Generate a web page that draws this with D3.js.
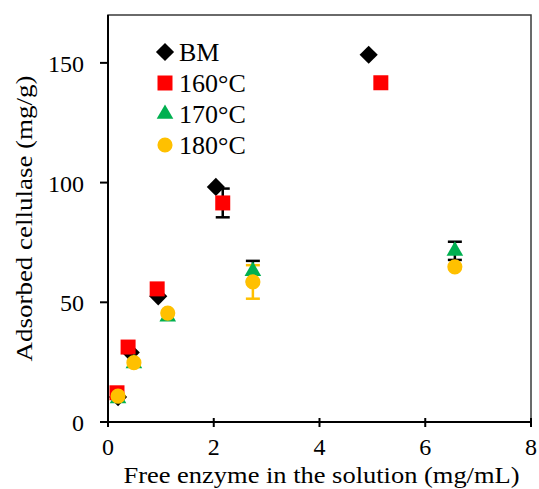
<!DOCTYPE html>
<html>
<head>
<meta charset="utf-8">
<script src="https://cdn.jsdelivr.net/npm/d3@7"></script>
<style>
  html, body { margin: 0; padding: 0; background: #fff; }
  text { font-family: "Liberation Serif", "Times New Roman", serif; fill: #000; }
</style>
</head>
<body>
<script>
// Series values
const seriesNames = ["BM", "160°C", "170°C", "180°C"];

const bmX = [0.19, 0.43, 0.95, 2.04, 4.93];
const bmY = [10.4, 29.0, 52.5, 98.2, 153.4];
const bmErr = [0.5, 0.5, 1.0, 0.5, 1.0];

const t160X = [0.17, 0.38, 0.93, 2.17, 5.16];
const t160Y = [12.2, 31.3, 55.6, 91.5, 141.7];
const t160Err = [0.5, 0.5, 0.5, 6.0, 0.5];

const t170X = [0.19, 0.49, 1.13, 2.74, 6.56];
const t170Y = [9.8, 24.5, 44.0, 63.0, 71.5];
const t170Err = [0.5, 0.5, 0.5, 4.3, 3.8];

const t180X = [0.19, 0.49, 1.13, 2.74, 6.56];
const t180Y = [10.8, 24.8, 45.5, 58.5, 64.8];
const t180Err = [0.5, 0.5, 0.5, 7.0, 0.5];

const xTicks = [0, 2, 4, 6, 8];
const yTicks = [0, 50, 100, 150];

const width = 539;
const height = 489;
const margin = { top: 15, right: 8, bottom: 67, left: 108 };

const x = d3.scaleLinear().domain([0, 8]).range([margin.left, width - margin.right]);
const y = d3.scaleLinear().domain([0, 170]).range([height - margin.bottom, margin.top]);

// styles per series
const styles = [
  { fill: "#000000", err: "#000000", shape: "diamond" },
  { fill: "#FF0000", err: "#000000", shape: "square" },
  { fill: "#00B050", err: "#000000", shape: "triangle" },
  { fill: "#FFC000", err: "#FFC000", shape: "circle" }
];

const series = [
  { xs: bmX, ys: bmY, err: bmErr },
  { xs: t160X, ys: t160Y, err: t160Err },
  { xs: t170X, ys: t170Y, err: t170Err },
  { xs: t180X, ys: t180Y, err: t180Err }
].map((s, i) => ({
  name: seriesNames[i],
  style: styles[i],
  points: s.xs.map((v, j) => ({ x: v, y: s.ys[j], e: s.err[j] }))
}));

function symbolPath(shape) {
  switch (shape) {
    case "diamond":
      return d3.symbol(d3.symbolSquare, 165)();
    case "square":
      return d3.symbol(d3.symbolSquare, 225)();
    case "triangle":
      return d3.symbol(d3.symbolTriangle, 120)();
    default:
      return d3.symbol(d3.symbolCircle, 180)();
  }
}
function symbolRotate(shape) {
  return shape === "diamond" ? " rotate(45)" : "";
}

const svg = d3.select("body")
  .append("svg")
  .attr("width", width)
  .attr("height", height);

// frame
svg.append("rect")
  .attr("x", x(0))
  .attr("y", y(170))
  .attr("width", x(8) - x(0))
  .attr("height", y(0) - y(170))
  .attr("fill", "none")
  .attr("stroke", "#3a3a3a")
  .attr("stroke-width", 1.5);

// x axis
const xAxis = svg.append("g")
  .attr("transform", `translate(0,${y(0)})`);
xAxis.append("line")
  .attr("x1", x(0)).attr("x2", x(8))
  .attr("stroke", "#000").attr("stroke-width", 2);
xAxis.selectAll("line.tick")
  .data(xTicks)
  .join("line")
  .attr("class", "tick")
  .attr("x1", (d) => x(d)).attr("x2", (d) => x(d))
  .attr("y1", -4).attr("y2", 5)
  .attr("stroke", "#000").attr("stroke-width", 2);
xAxis.selectAll("text")
  .data(xTicks)
  .join("text")
  .attr("x", (d) => x(d))
  .attr("y", 33)
  .attr("text-anchor", "middle")
  .attr("font-size", 24)
  .text((d) => d);

// y axis
const yAxis = svg.append("g");
yAxis.append("line")
  .attr("x1", x(0)).attr("x2", x(0))
  .attr("y1", y(0)).attr("y2", y(170))
  .attr("stroke", "#000").attr("stroke-width", 2);
yAxis.selectAll("line.tick")
  .data(yTicks)
  .join("line")
  .attr("class", "tick")
  .attr("x1", x(0) - 8).attr("x2", x(0))
  .attr("y1", (d) => y(d)).attr("y2", (d) => y(d))
  .attr("stroke", "#000").attr("stroke-width", 2);
yAxis.selectAll("text")
  .data(yTicks)
  .join("text")
  .attr("x", x(0) - 24)
  .attr("y", (d) => y(d) + 9)
  .attr("text-anchor", "end")
  .attr("font-size", 24)
  .text((d) => d);

// axis titles (stretched a little to the reference's width)
svg.append("text")
  .attr("x", (x(0) + x(8)) / 2 + 2)
  .attr("y", 483)
  .attr("text-anchor", "middle")
  .attr("font-size", 24)
  .attr("textLength", 396)
  .attr("lengthAdjust", "spacingAndGlyphs")
  .text("Free enzyme in the solution (mg/mL)");

svg.append("text")
  .attr("transform", `translate(32,${(y(0) + y(170)) / 2}) rotate(-90)`)
  .attr("text-anchor", "middle")
  .attr("font-size", 24)
  .attr("textLength", 286)
  .attr("lengthAdjust", "spacingAndGlyphs")
  .text("Adsorbed cellulase (mg/g)");

// error bars (drawn first, under all markers)
const gErr = svg.append("g");
series.forEach((s) => {
  const g = gErr.append("g")
    .attr("stroke", s.style.err)
    .attr("stroke-width", 2.5);
  g.selectAll("line.v")
    .data(s.points)
    .join("line")
    .attr("class", "v")
    .attr("x1", (d) => x(d.x)).attr("x2", (d) => x(d.x))
    .attr("y1", (d) => y(d.y - d.e)).attr("y2", (d) => y(d.y + d.e));
  g.selectAll("line.top")
    .data(s.points.filter((d) => d.e > 1))
    .join("line")
    .attr("class", "top")
    .attr("x1", (d) => x(d.x) - 7).attr("x2", (d) => x(d.x) + 7)
    .attr("y1", (d) => y(d.y + d.e)).attr("y2", (d) => y(d.y + d.e));
  g.selectAll("line.bot")
    .data(s.points.filter((d) => d.e > 1))
    .join("line")
    .attr("class", "bot")
    .attr("x1", (d) => x(d.x) - 7).attr("x2", (d) => x(d.x) + 7)
    .attr("y1", (d) => y(d.y - d.e)).attr("y2", (d) => y(d.y - d.e));
});

// markers
series.forEach((s) => {
  svg.append("g")
    .selectAll("path")
    .data(s.points)
    .join("path")
    .attr("d", symbolPath(s.style.shape))
    .attr("transform", (d) => `translate(${x(d.x)},${y(d.y)})${symbolRotate(s.style.shape)}`)
    .attr("fill", s.style.fill);
});

// legend
const legend = svg.append("g").attr("transform", "translate(165,52)");
const row = legend.selectAll("g")
  .data(series)
  .join("g")
  .attr("transform", (d, i) => `translate(0,${i * 31})`);
row.append("path")
  .attr("d", (d) => symbolPath(d.style.shape))
  .attr("transform", (d) => `translate(0,0)${symbolRotate(d.style.shape)}`)
  .attr("fill", (d) => d.style.fill);
row.append("text")
  .attr("x", 14)
  .attr("y", 9)
  .attr("font-size", 26)
  .text((d) => d.name);
</script>
</body>
</html>
